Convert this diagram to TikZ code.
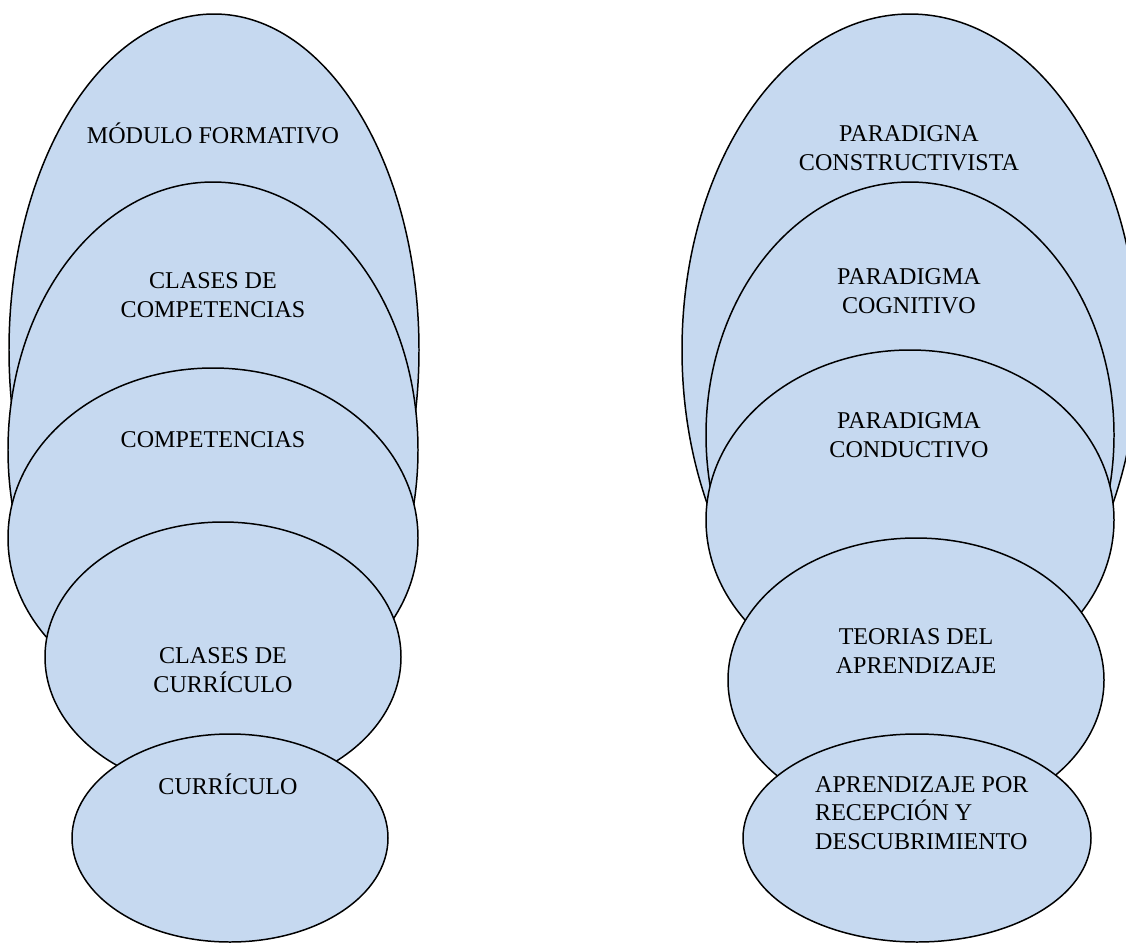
\documentclass[tikz,border=0pt]{standalone}
\usepackage{fontspec}
\setmainfont{Liberation Serif}
\usetikzlibrary{shapes.geometric}

\definecolor{bubblefill}{HTML}{C6D9F0}

\tikzset{
    bubble/.style={ellipse, draw=black, fill=bubblefill, line width=0.85pt, inner sep=0pt},
    tag/.style={font=\fontsize{13.7pt}{16.2pt}\selectfont, align=center, anchor=base}
}

\begin{document}
\begin{tikzpicture}[x=0.02cm, y=-0.02cm]
    % Fix the frame
    \useasboundingbox (0,0) rectangle (1126,943);

    % Draw left stack of ellipses
    \foreach \name/\cx/\cy/\rx/\ry in {modulo/214/350/205/336, clasescomp/213/450/205/268,
        comp/213/538/205/170, clasescurr/223/657/178/135, curr/230/838/158/104} {
        \node[bubble, minimum width=2*\rx*0.02cm, minimum height=2*\ry*0.02cm] (\name) at (\cx,\cy) {};
    }

    % Draw right stack of ellipses
    \foreach \name/\cx/\cy/\rx/\ry in {constr/910/350/228/336, cogn/910/435/204/253,
        cond/910/520/204/170, teorias/916/680/188/142, recep/917/838/174/104} {
        \node[bubble, minimum width=2*\rx*0.02cm, minimum height=2*\ry*0.02cm] (\name) at (\cx,\cy) {};
    }

    % Add labels (base = baseline of last line)
    \node[tag] (tmodulo) at (213,143) {MÓDULO FORMATIVO};
    \node[tag] (tclasescomp) at (213,317) {CLASES DE\\COMPETENCIAS};
    \node[tag] (tcomp) at (213,447) {COMPETENCIAS};
    \node[tag] (tclasescurr) at (223,692) {CLASES DE\\CURRÍCULO};
    \node[tag] (tcurr) at (228,794) {CURRÍCULO};

    \node[tag] (tconstr) at (909,170) {PARADIGNA\\CONSTRUCTIVISTA};
    \node[tag] (tcogn) at (909,313) {PARADIGMA\\COGNITIVO};
    \node[tag] (tcond) at (909,457) {PARADIGMA\\CONDUCTIVO};
    \node[tag] (tteorias) at (916,673) {TEORIAS DEL\\APRENDIZAJE};
    \node[tag, align=left, anchor=base west] (trecep) at (809,849) {APRENDIZAJE POR\\RECEPCIÓN Y\\DESCUBRIMIENTO};
\end{tikzpicture}
\end{document}
